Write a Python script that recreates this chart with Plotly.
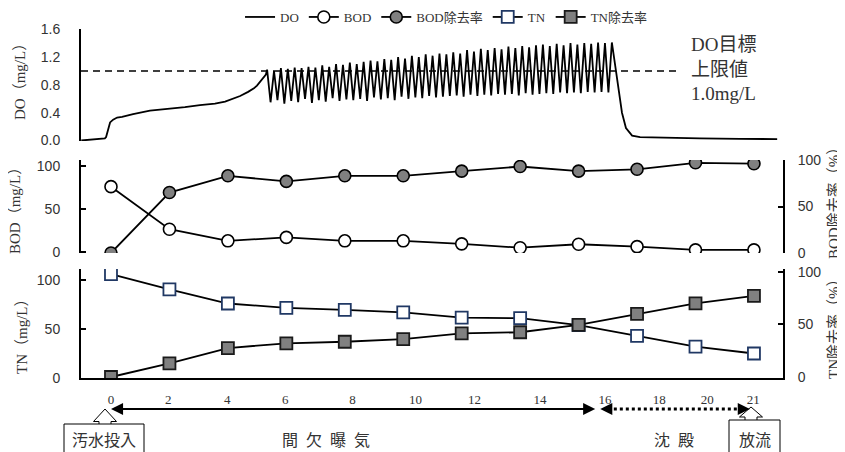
import numpy as np
import plotly.graph_objects as go

# ---------------- data ----------------
sample_idx = list(range(12))
bod = [76, 26.5, 13, 17, 13, 13, 9.5, 5, 9, 6.2, 2.5, 2.5]
bod_removal = [0, 65, 83, 77, 83, 83, 88, 93, 88, 90, 97, 96]
tn = [106, 90.5, 76, 71.5, 69.5, 67, 61.5, 61, 54, 43, 32, 25]
tn_removal = [0, 13, 27.5, 32, 33.5, 36, 41.5, 42.5, 49.5, 60, 70, 77]

x_tick_labels = ["0", "2", "4", "6", "8", "10", "12", "14", "16", "18", "20", "21"]
x_tick_pos = [0, 0.98, 1.99, 2.98, 4.13, 5.21, 6.22, 7.34, 8.45, 9.38, 10.2, 10.99]

# DO record (hours): start-up ramp
do_ramp_t = [-0.97, -0.59, -0.36, -0.2, -0.16, -0.13, -0.10, -0.03, 0.07, 0.2, 0.36,
             0.72, 1.27, 1.83, 2.41, 2.9, 3.39, 3.72, 3.98, 4.21, 4.47, 4.66, 4.76, 4.92, 5.05]
do_ramp = [0.0, 0.01, 0.015, 0.03, 0.05, 0.10, 0.18, 0.26, 0.30, 0.33, 0.34,
           0.38, 0.43, 0.45, 0.48, 0.51, 0.53, 0.56, 0.60, 0.64, 0.70, 0.75, 0.79, 0.87, 0.95]
# intermittent aeration: peak / trough of each cycle
do_peaks = [1.02, 1.00, 1.04, 1.03, 1.05, 1.04, 1.06, 1.05, 1.08, 1.06, 1.10, 1.09, 1.12,
            1.10, 1.13, 1.15, 1.14, 1.17, 1.16, 1.20, 1.18, 1.22, 1.20, 1.24, 1.22, 1.25, 1.24,
            1.27, 1.25, 1.30, 1.28, 1.32, 1.30, 1.33, 1.31, 1.35, 1.33, 1.36, 1.34, 1.37,
            1.38, 1.36, 1.39, 1.37, 1.40, 1.38, 1.40, 1.39, 1.41, 1.40, 1.41]
do_troughs = [0.55, 0.58, 0.53, 0.57, 0.55, 0.60, 0.54, 0.58, 0.56, 0.61, 0.57, 0.59, 0.58,
              0.60, 0.57, 0.62, 0.59, 0.61, 0.58, 0.63, 0.60, 0.62, 0.61, 0.64, 0.62, 0.63, 0.64,
              0.65, 0.63, 0.66, 0.64, 0.66, 0.65, 0.67, 0.66, 0.67, 0.65, 0.68, 0.66, 0.67,
              0.68, 0.67, 0.69, 0.68, 0.69, 0.68, 0.70, 0.69, 0.70, 0.69]
osc_start, osc_end = 5.09, 16.33
# settling period
do_tail_t = [16.53, 16.66, 16.79, 16.99, 17.25, 17.9, 19.2, 20.5, 21.72]
do_tail = [0.75, 0.40, 0.18, 0.07, 0.05, 0.04, 0.03, 0.025, 0.02]

# assemble DO series
osc_vals = []
for i, p in enumerate(do_peaks):
    osc_vals.append(p)
    if i < len(do_troughs):
        osc_vals.append(do_troughs[i])
osc_t = list(np.linspace(osc_start, osc_end, len(osc_vals)))
do_t = do_ramp_t + osc_t + do_tail_t
do_v = do_ramp + osc_vals + do_tail

# ---------------- layout helpers ----------------
# the page body has an 8px margin, so the figure is drawn 8px smaller and offset
OFF = 8
PLOT_L, PLOT_R, PLOT_T, PLOT_B = 81, 783, 25, 378      # in page pixels
W, H = PLOT_R - PLOT_L, PLOT_B - PLOT_T
FIG_W, FIG_H = 845 - OFF, 452 - OFF
ML, MT = PLOT_L - OFF, PLOT_T - OFF
MR, MB = FIG_W - ML - W, FIG_H - MT - H


def pxx(x):
    return (x - PLOT_L) / W


def pxy(y):
    return (PLOT_B - y) / H


SERIF = "Liberation Serif, Noto Sans CJK JP, serif"
SANS = "Liberation Sans, Arial, sans-serif"
CJK = "Noto Sans CJK JP, sans-serif"
TXT = "#333333"
GRAY = "#808080"
NAVY = "#203864"

fig = go.Figure()

fig.add_trace(go.Scatter(x=do_t, y=do_v, mode="lines", name="DO",
                         line=dict(color="black", width=1.8), xaxis="x2", yaxis="y"))
fig.add_trace(go.Scatter(x=sample_idx, y=bod, mode="lines+markers", name="BOD",
                         line=dict(color="black", width=1.8),
                         marker=dict(symbol="circle", size=12, color="white",
                                     line=dict(color="black", width=1.6)),
                         xaxis="x", yaxis="y2"))
fig.add_trace(go.Scatter(x=sample_idx, y=bod_removal, mode="lines+markers", name="BOD除去率",
                         line=dict(color="black", width=1.8),
                         marker=dict(symbol="circle", size=12, color=GRAY,
                                     line=dict(color="black", width=1.6)),
                         xaxis="x", yaxis="y3"))
fig.add_trace(go.Scatter(x=sample_idx, y=tn, mode="lines+markers", name="TN",
                         line=dict(color="black", width=1.8),
                         marker=dict(symbol="square", size=12, color="white",
                                     line=dict(color=NAVY, width=1.8)),
                         xaxis="x", yaxis="y4"))
fig.add_trace(go.Scatter(x=sample_idx, y=tn_removal, mode="lines+markers", name="TN除去率",
                         line=dict(color="black", width=1.8),
                         marker=dict(symbol="square", size=12, color=GRAY,
                                     line=dict(color="#1a1a1a", width=1.8)),
                         xaxis="x", yaxis="y5"))

dom_top = [pxy(141), pxy(29)]
dom_mid = [pxy(253), pxy(160)]
dom_bot = [0, pxy(269)]

yl = dict(showline=True, linecolor="black", linewidth=2, showgrid=False, zeroline=False,
          ticks="inside", ticklen=5, tickwidth=1.5, tickcolor="black",
          tickfont=dict(family=SANS, size=14, color=TXT), ticklabelstandoff=16)
yr = dict(yl)
yr.update(ticklabelstandoff=10)

fig.update_layout(
    width=FIG_W, height=FIG_H,
    margin=dict(l=ML, r=MR, t=MT, b=MB, autoexpand=False),
    paper_bgcolor="white", plot_bgcolor="white",
    showlegend=True,
    legend=dict(orientation="h", x=0.52, xanchor="center", xref="paper",
                y=1 - (17 - OFF) / FIG_H, yanchor="middle", yref="container",
                font=dict(family=SERIF, size=13, color=TXT), itemwidth=30,
                tracegroupgap=0, bgcolor="rgba(0,0,0,0)"),
    xaxis=dict(domain=[0, 1], anchor="y4", range=[-0.513, 11.497],
               showline=True, linecolor="black", linewidth=2, showgrid=False, zeroline=False,
               ticks="", tickvals=x_tick_pos, ticktext=x_tick_labels,
               tickfont=dict(family=SERIF, size=13, color=TXT), ticklabelstandoff=8),
    xaxis2=dict(domain=[0, 1], anchor="y", range=[-0.978, 21.91], visible=False),
    yaxis=dict(domain=dom_top, anchor="x2", range=[-0.007, 1.604],
               showline=True, linecolor="black", linewidth=2, showgrid=False, zeroline=False,
               ticks="", tickvals=[0, 0.4, 0.8, 1.2, 1.6], tickformat=".1f",
               tickfont=dict(family=SANS, size=14, color=TXT), ticklabelstandoff=16),
    yaxis2=dict(yl, domain=dom_mid, anchor="x", range=[-1.16, 107], tickvals=[0, 50, 100]),
    yaxis3=dict(yr, overlaying="y2", side="right", anchor="x", range=[0, 100],
                tickvals=[0, 50, 100]),
    yaxis4=dict(yl, domain=dom_bot, anchor="x", range=[0, 111.2], tickvals=[0, 50, 100]),
    yaxis5=dict(yr, overlaying="y4", side="right", anchor="x", range=[-0.95, 102.6],
                tickvals=[0, 50, 100]),
)

shapes = []
# DO target line
shapes.append(dict(type="line", xref="x2", yref="y", x0=-0.978, x1=18.55, y0=1.0, y1=1.0,
                   line=dict(color="black", width=1.5, dash="7px,5px")))
# dotted settling arrow line
ya = pxy(409)
shapes.append(dict(type="line", xref="x", yref="paper", x0=8.5, x1=10.8, y0=ya, y1=ya,
                   line=dict(color="black", width=3, dash="dot")))


def block_arrow(tipx, tipy, wing_y, base_y, half_w, half_s):
    pts = [(tipx - half_s, base_y), (tipx - half_s, wing_y), (tipx - half_w, wing_y),
           (tipx, tipy), (tipx + half_w, wing_y), (tipx + half_s, wing_y), (tipx + half_s, base_y)]
    d = "M " + " L ".join(f"{pxx(a):.5f},{pxy(b):.5f}" for a, b in pts)
    return dict(type="path", xref="paper", yref="paper", path=d,
                line=dict(color="black", width=1), fillcolor="white")


shapes.append(block_arrow(105, 409, 421.5, 424, 11.5, 6))
shapes.append(dict(type="rect", xref="paper", yref="paper", x0=pxx(64), x1=pxx(144),
                   y0=pxy(424), y1=pxy(458), line=dict(color="black", width=1)))
shapes.append(block_arrow(751, 407, 417, 420, 11.5, 6))
shapes.append(dict(type="rect", xref="paper", yref="paper", x0=pxx(729), x1=pxx(780),
                   y0=pxy(420), y1=pxy(458), line=dict(color="black", width=1)))
fig.update_layout(shapes=shapes)

ann = []
# axis titles
ann.append(dict(text="DO（mg/L）", x=pxx(20), y=pxy(78), textangle=-90))
ann.append(dict(text="BOD（mg/L）", x=pxx(15), y=pxy(207), textangle=-90))
ann.append(dict(text="TN（mg/L）", x=pxx(22), y=pxy(333), textangle=-90))
ann.append(dict(text="BOD除去率（%）", x=pxx(834), y=pxy(200), textangle=-90))
ann.append(dict(text="TN除去率（%）", x=pxx(834), y=pxy(325), textangle=-90))
for a in ann:
    a.update(xref="paper", yref="paper", showarrow=False, xanchor="center", yanchor="middle",
             font=dict(family=SERIF, size=15, color=TXT))
# DO target note
ann.append(dict(text="DO目標<br>上限値<br>1.0mg/L", x=pxx(689), y=pxy(69), xref="paper",
                yref="paper", showarrow=False, xanchor="left", yanchor="middle", align="left",
                font=dict(family=SERIF, size=19, color=TXT)))
# process labels
for t, xc in [("間\u2002欠\u2002曝\u2002気", 326), ("沈\u2002殿", 674),
              ("汚水投入", 104), ("放流", 754.5)]:
    ann.append(dict(text=t, x=pxx(xc), y=pxy(439), xref="paper", yref="paper",
                    showarrow=False, xanchor="center", yanchor="middle",
                    font=dict(family=CJK, size=16, color=TXT)))
# solid double arrow (aeration period)
ann.append(dict(text="", x=0, y=ya, xref="x", yref="paper", ax=8.31, ay=0, axref="x",
                ayref="pixel", showarrow=True, arrowhead=2, startarrowhead=2,
                arrowside="end+start", arrowsize=1.1, startarrowsize=1.1, arrowwidth=2.2,
                arrowcolor="black"))
# heads of dotted arrow
ann.append(dict(text="", x=8.37, y=ya, xref="x", yref="paper", ax=12, ay=0, showarrow=True,
                arrowhead=2, arrowsize=1.1, arrowwidth=2.2, arrowcolor="black"))
ann.append(dict(text="", x=10.93, y=ya, xref="x", yref="paper", ax=-12, ay=0, showarrow=True,
                arrowhead=2, arrowsize=1.1, arrowwidth=2.2, arrowcolor="black"))
fig.update_layout(annotations=ann)

fig.write_html("out.html")
